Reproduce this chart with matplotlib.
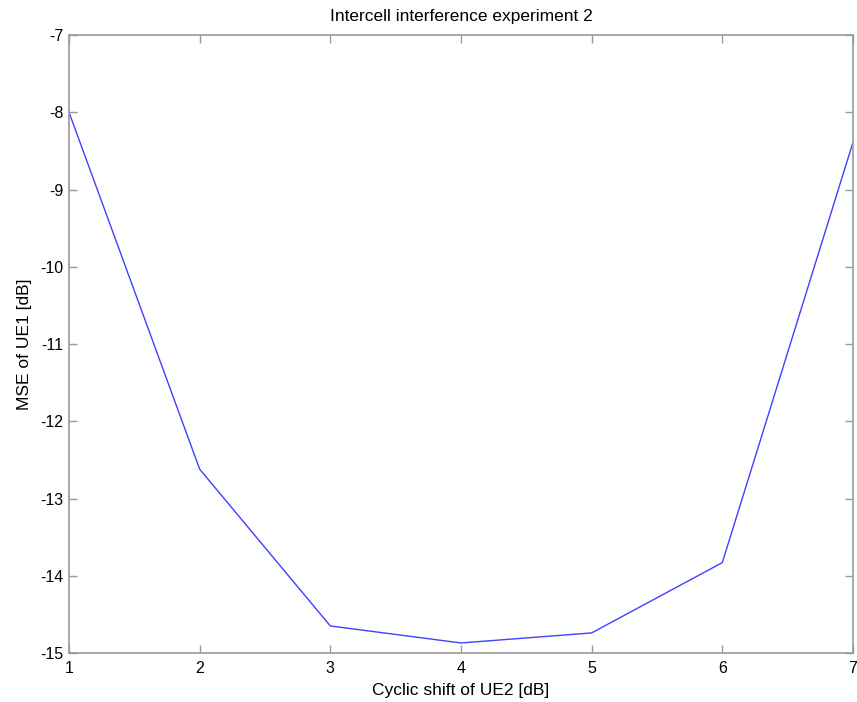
import matplotlib.pyplot as plt

# cyclic shift of UE2 and resulting MSE of UE1
shift = [1, 2, 3, 4, 5, 6, 7]
mse_db = [-8.0, -12.62, -14.65, -14.87, -14.74, -13.83, -8.39]

plt.rcParams['font.family'] = ['Liberation Sans', 'DejaVu Sans']
plt.rcParams['axes.unicode_minus'] = False

fig = plt.figure(figsize=(8.57, 7.02), dpi=100)
ax = fig.add_axes([0.0805, 0.0698, 0.9148, 0.8803])

ax.plot(shift, mse_db, color='#4040ff', linewidth=1.0)

ax.set_xlim(1, 7)
ax.set_ylim(-15, -7)
ax.set_xticks(range(1, 8))
ax.set_yticks(range(-15, -6))

for s in ax.spines.values():
    s.set_color('#999999')
    s.set_linewidth(1.2)
ax.tick_params(direction='in', length=6, width=1, color='#999999',
               top=True, right=True, labelsize=11.5, labelcolor='black')
ax.tick_params(axis='x', pad=6)
ax.tick_params(axis='y', pad=4)

ax.set_title('Intercell interference experiment 2', fontsize=12.5, pad=10)
ax.set_xlabel('Cyclic shift of UE2 [dB]', fontsize=12.5, labelpad=5)
ax.set_ylabel('MSE of UE1 [dB]', fontsize=12.5, labelpad=6)

fig.savefig('out.png', dpi=100)
